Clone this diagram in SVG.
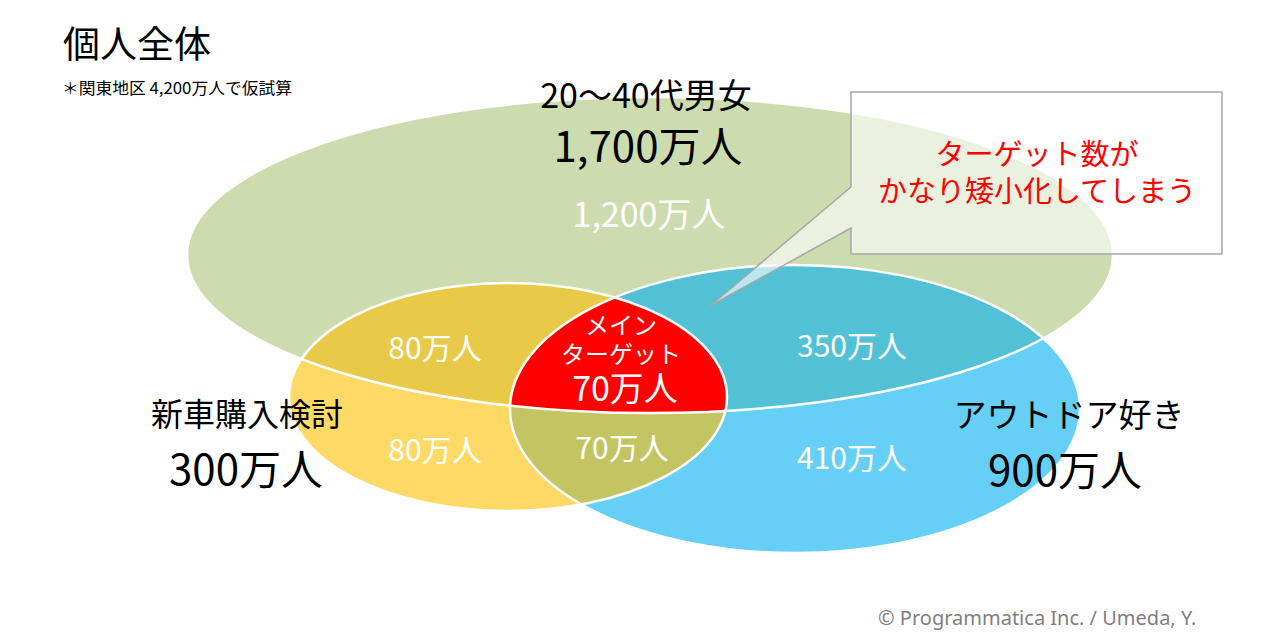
<svg xmlns="http://www.w3.org/2000/svg" width="1270" height="638" viewBox="0 0 1270 638">
<style>
text{font-family:"Noto Sans CJK JP","Noto Sans",sans-serif}
.k{fill:#000}
.w{fill:#fff}
.r{fill:#ff0000}
.m{text-anchor:middle}
.edge{fill:none;stroke:#fff;stroke-width:2.5}
</style>
<defs>
<ellipse id="eg" cx="650" cy="255" rx="463" ry="158"/>
<ellipse id="ey" cx="508" cy="397" rx="219" ry="114"/>
<ellipse id="eb" cx="795" cy="409" rx="285" ry="144"/>
<clipPath id="cg"><use href="#eg"/></clipPath>
<clipPath id="cy"><use href="#ey"/></clipPath>
</defs>
<rect width="1270" height="638" fill="#fff"/>
<g id="title">
<text class="k" x="63" y="58" font-size="37">個人全体</text>
<text class="k" x="62" y="94" font-size="16" textLength="230" lengthAdjust="spacingAndGlyphs">＊関東地区 4,200万人で仮試算</text>
</g>
<g id="venn">
<use href="#eg" fill="#cddcae"/>
<use href="#ey" fill="#ffd966"/>
<use href="#eb" fill="#66cff5"/>
<use href="#eb" fill="#c3c563" clip-path="url(#cy)"/>
<use href="#ey" fill="#e9ca48" clip-path="url(#cg)"/>
<use href="#eb" fill="#52c1d6" clip-path="url(#cg)"/>
<g clip-path="url(#cy)"><use href="#eb" fill="#ff0000" clip-path="url(#cg)"/></g>
<use href="#eg" class="edge" stroke-width="1.5"/>
<use href="#ey" class="edge"/>
<use href="#eb" class="edge"/>
</g>
<g id="node-green">
<text class="k m" x="646" y="108" font-size="34">20～40代男女</text>
<text class="k m" x="648" y="162" font-size="42">1,700万人</text>
<text class="w m" x="649" y="227" font-size="34">1,200万人</text>
</g>
<g id="node-yellow">
<text class="k m" x="247" y="426" font-size="32">新車購入検討</text>
<text class="k m" x="246" y="485" font-size="42">300万人</text>
<text class="w m" x="435" y="359" font-size="30">80万人</text>
<text class="w m" x="435" y="461" font-size="30">80万人</text>
</g>
<g id="node-blue">
<text class="k m" x="1069" y="427" font-size="33">アウトドア好き</text>
<text class="k m" x="1065" y="486" font-size="42">900万人</text>
<text class="w m" x="852" y="357" font-size="30">350万人</text>
<text class="w m" x="852" y="469" font-size="30">410万人</text>
</g>
<g id="node-overlap">
<text class="w m" x="622" y="459" font-size="30">70万人</text>
</g>
<g id="node-main">
<text class="w m" x="621" y="334" font-size="24">メイン</text>
<text class="w m" x="621" y="363" font-size="24">ターゲット</text>
<text class="w m" x="625" y="401" font-size="34">70万人</text>
</g>
<g id="connectors">
<path d="M851,92 H1222 V254 H851 V228 L710,306 L851,187 Z" fill="#fff" fill-opacity="0.6" stroke="#a6a6a6" stroke-width="1.5"/>
</g>
<g id="callout">
<text class="r m" x="1037" y="165" font-size="29">ターゲット数が</text>
<text class="r m" x="1037" y="202" font-size="29">かなり矮小化してしまう</text>
</g>
<g id="footer">
<text x="878" y="625" font-size="20" fill="#7f7f7f" style="font-family:'Noto Sans',sans-serif">© Programmatica Inc. / Umeda, Y.</text>
</g>
</svg>
